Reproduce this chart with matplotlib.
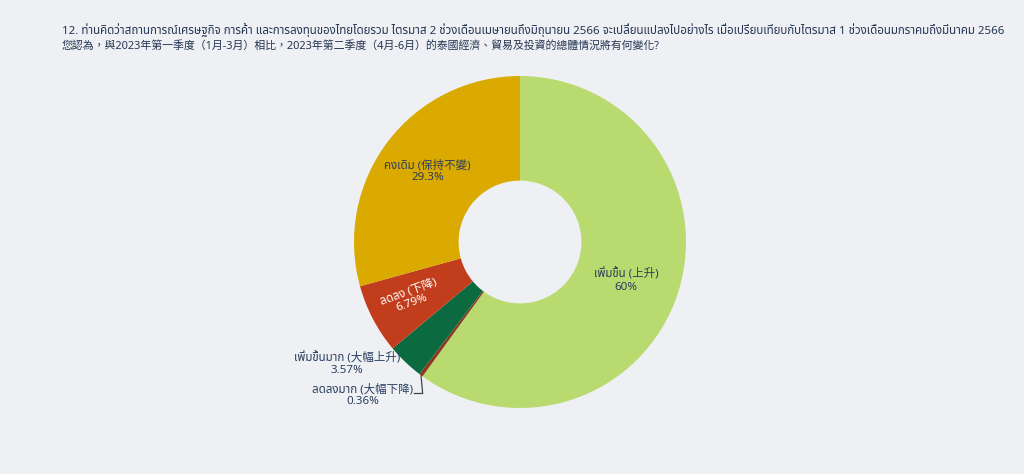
import numpy as np
import matplotlib
matplotlib.use("Agg")
import matplotlib.pyplot as plt

plt.rcParams['font.family'] = ['Noto Sans Thai', 'Noto Sans Thai Looped', 'Loma', 'Garuda',
                               'Tlwg Typo', 'Noto Sans', 'Noto Sans CJK TC', 'DejaVu Sans']

title_th = ("12. ท่านคิดว่าสถานการณ์เศรษฐกิจ การค้า และการลงทุนของไทยโดยรวม ไตรมาส 2 "
            "ช่วงเดือนเมษายนถึงมิถุนายน 2566 จะเปลี่ยนแปลงไปอย่างไร เมื่อเปรียบเทียบกับไตรมาส 1 "
            "ช่วงเดือนมกราคมถึงมีนาคม 2566")
title_zh = "您認為，與2023年第一季度（1月-3月）相比，2023年第二季度（4月-6月）的泰國經濟、貿易及投資的總體情況將有何變化?"

labels = ["เพิ่มขึ้น (上升)", "ลดลงมาก (大幅下降)", "เพิ่มขึ้นมาก (大幅上升)",
          "ลดลง (下降)", "คงเดิม (保持不變)"]
values = [60, 0.36, 3.57, 6.79, 29.3]
pct_text = ["60%", "0.36%", "3.57%", "6.79%", "29.3%"]
colors = ["#b8da6e", "#8a3a1c", "#0b6a40", "#c13d1c", "#dbaa00"]

bg = "#eef0f3"
txt = "#2a3f5f"

fig = plt.figure(figsize=(10.24, 4.74), dpi=100, facecolor=bg)
ax = fig.add_axes([0.3133, 0.0692, 0.389, 0.8405])
ax.set_facecolor(bg)

hole = 0.37
wedges, _ = ax.pie(values, colors=colors, startangle=90, counterclock=False,
                   radius=1, wedgeprops=dict(width=1 - hole, edgecolor="none"))
ax.set_xlim(-1.2, 1.2)
ax.set_ylim(-1.2, 1.2)
ax.set_aspect("equal")
ax.axis("off")

# label placement: (radius, angle offset deg, text color, rotation)
inside = {0: (0.68, -2, txt, 0), 3: (0.74, -1, "white", 20), 4: (0.70, 0, txt, 0)}
for i, w in enumerate(wedges):
    mid = np.deg2rad((w.theta1 + w.theta2) / 2)
    if i in inside:
        r, off, c, rot = inside[i]
        a = mid + np.deg2rad(off)
        ax.text(r * np.cos(a), r * np.sin(a), labels[i] + "\n" + pct_text[i],
                ha="center", va="center", fontsize=8.3, color=c, rotation=rot,
                linespacing=1.1)

# small slices outside
w = wedges[2]
mid = np.deg2rad((w.theta1 + w.theta2) / 2)
x0, y0 = np.cos(mid), np.sin(mid)
ax.text(x0 - 0.35, y0 + 0.06, labels[2] + "\n" + pct_text[2], ha="center", va="top",
        fontsize=8.3, color=txt, linespacing=1.1)

w = wedges[1]
mid = np.deg2rad((w.theta1 + w.theta2) / 2)
x0, y0 = np.cos(mid), np.sin(mid)
ax.plot([x0, x0 + 0.01, x0 - 0.04], [y0, y0 - 0.11, y0 - 0.11], color="#444444", lw=0.9)
ax.text(x0 - 0.35, y0 - 0.05, labels[1] + "\n" + pct_text[1], ha="center", va="top",
        fontsize=8.3, color=txt, linespacing=1.1)

# title lines, shrunk to the width they take in the original
renderer = fig.canvas.get_renderer()
for s, y, right in [(title_th, 30, 1010), (title_zh, 46, 660)]:
    t = fig.text(62 / 1024, 1 - y / 474, s, fontsize=8.5, color="#243552",
                 va="center", ha="left")
    for _ in range(3):
        wpx = t.get_window_extent(renderer).width
        t.set_fontsize(t.get_fontsize() * (right - 62) / wpx)

fig.savefig("out.png", dpi=100, facecolor=bg)
